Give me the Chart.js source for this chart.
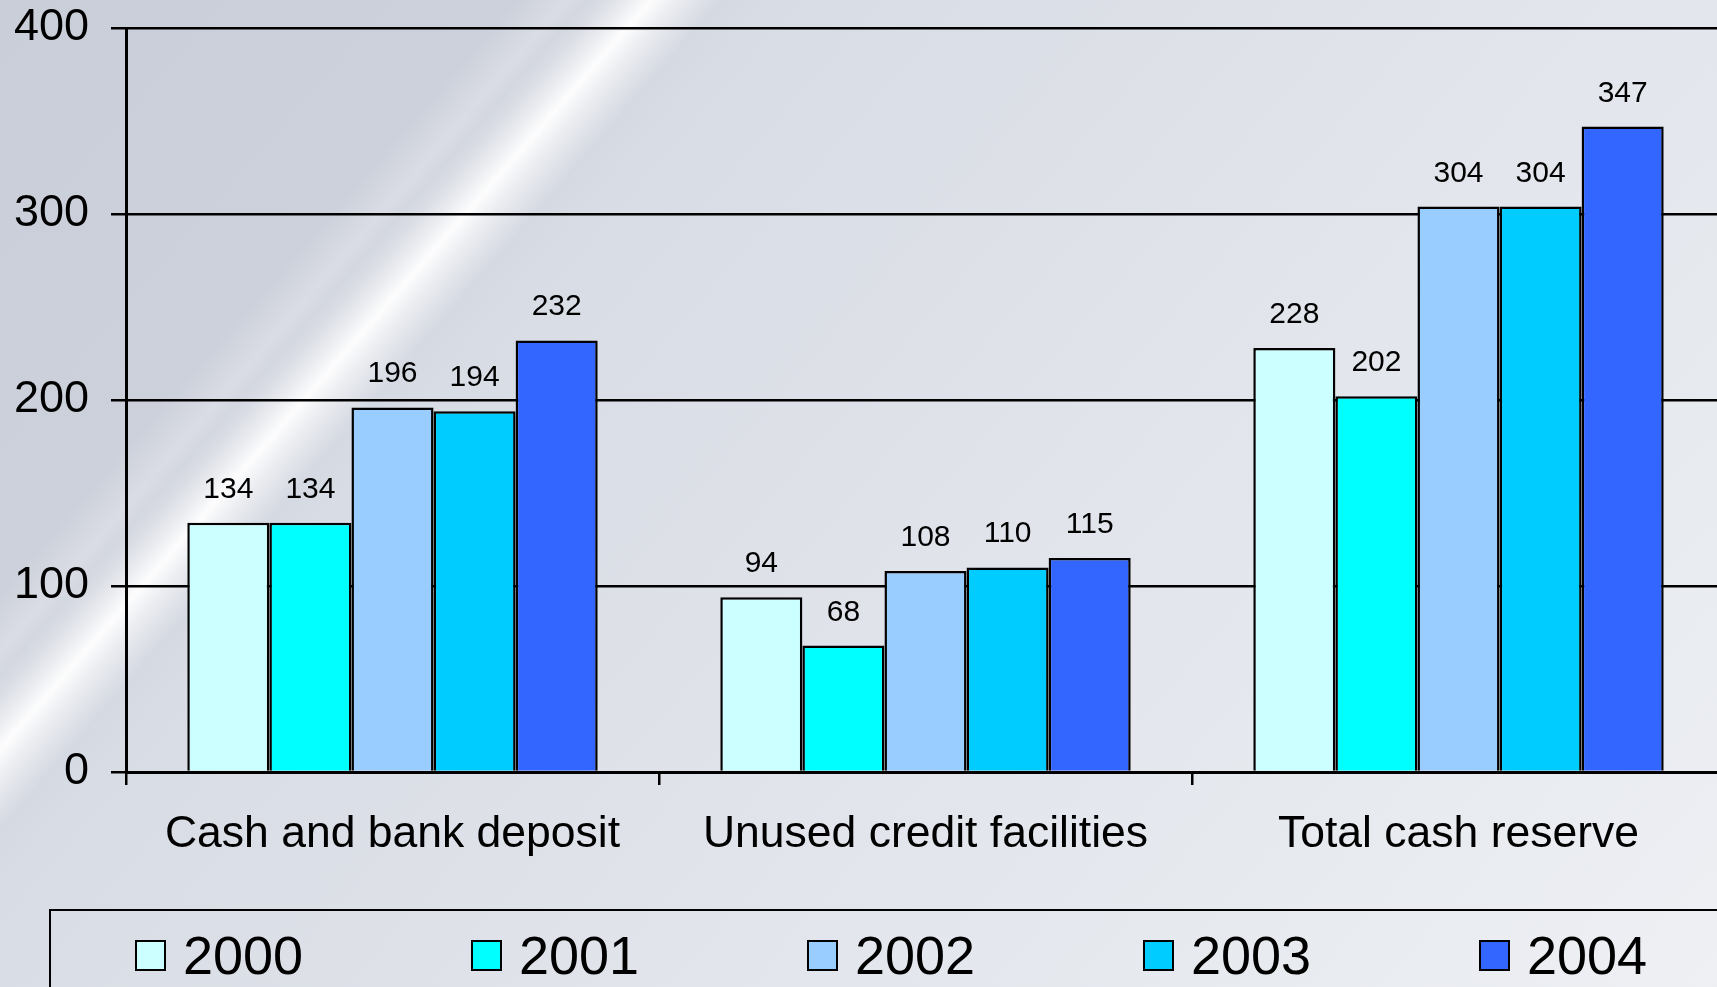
<!DOCTYPE html>
<html>
<head>
    <title>Cash reserve 2000-2004</title>
    <style>
        body {
            margin: 0;
            width: 1717px;
            height: 987px;
            overflow: hidden;
            position: relative;
            font-family: 'Liberation Sans', Arial, sans-serif;
            background:
                linear-gradient(131deg, rgba(255,255,255,0) 20%, rgba(255,255,255,0.25) 22%, rgba(255,255,255,0) 23.5%),
                linear-gradient(131deg, rgba(255,255,255,0) 22.8%, rgba(255,255,255,0.55) 24.4%, rgba(255,255,255,0.95) 25.3%, rgba(255,255,255,0.55) 26.3%, rgba(255,255,255,0) 28%),
                linear-gradient(131deg, #caced8 0%, #cdd1db 22%, #d8dce4 30%, #e0e3ea 55%, #e7eaef 80%, #eef0f4 100%);
        }
        .chart-box {
            position: absolute;
            left: 0;
            top: 0;
            width: 1745px;
            height: 892px;
        }
        .legend {
            position: absolute;
            left: 49px;
            top: 909px;
            width: 1720px;
            height: 120px;
            border: 2.5px solid #000;
            box-sizing: border-box;
        }
        .legend-item {
            position: absolute;
            top: 27px;
            display: flex;
            align-items: center;
            font-size: 54px;
            line-height: 34px;
            color: #000;
        }
        .legend-item span.sw {
            display: inline-block;
            width: 27px;
            height: 27px;
            border: 2px solid #000;
            margin-right: 17px;
        }
    </style>
</head>
<body>

<div class="chart-box">
    <canvas id="cashChart"></canvas>
</div>
<div class="legend" id="legend"></div>

<script src="https://cdn.jsdelivr.net/npm/chart.js"></script>
<script>
    const categories = ['Cash and bank deposit', 'Unused credit facilities', 'Total cash reserve'];
    const years = ['2000', '2001', '2002', '2003', '2004'];
    const y2000 = [134, 94, 228];
    const y2001 = [134, 68, 202];
    const y2002 = [196, 108, 304];
    const y2003 = [194, 110, 304];
    const y2004 = [232, 115, 347];
    const yTicks = [0, 100, 200, 300, 400];
    const colors = ['#CCFFFF', '#00FFFF', '#99CCFF', '#00CCFF', '#3366FF'];

    const series = [y2000, y2001, y2002, y2003, y2004];

    Chart.defaults.font.family = "'Liberation Sans', Arial, sans-serif";
    Chart.defaults.color = '#000';

    // value labels over the bars
    const valueLabels = {
        id: 'valueLabels',
        afterDatasetsDraw(chart) {
            const ctx = chart.ctx;
            ctx.save();
            ctx.font = "30px 'Liberation Sans', Arial, sans-serif";
            ctx.fillStyle = '#000';
            ctx.textAlign = 'center';
            ctx.textBaseline = 'alphabetic';
            chart.data.datasets.forEach((ds, i) => {
                chart.getDatasetMeta(i).data.forEach((bar, j) => {
                    ctx.fillText(ds.data[j], bar.x, bar.y - 25);
                });
            });
            ctx.restore();
        }
    };

    new Chart(document.getElementById('cashChart'), {
        type: 'bar',
        data: {
            labels: categories,
            datasets: series.map((vals, i) => ({
                label: years[i],
                data: vals,
                backgroundColor: colors[i],
                borderColor: '#000',
                borderWidth: 2.5,
                borderSkipped: 'start',
                categoryPercentage: 0.77,
                barPercentage: 1.0
            }))
        },
        options: {
            responsive: true,
            maintainAspectRatio: false,
            animation: false,
            layout: { padding: { top: 28, right: 20, bottom: 0, left: 0 } },
            plugins: {
                legend: { display: false },
                tooltip: { enabled: false }
            },
            scales: {
                x: {
                    grid: { display: true, drawOnChartArea: false, drawTicks: true, tickLength: 13, color: '#000', lineWidth: 2.5, offset: true },
                    border: { display: true, color: '#000', width: 3 },
                    ticks: { font: { size: 44.5 }, padding: 23, maxRotation: 0, autoSkip: false },
                    afterFit: scale => { scale.height = 120; }
                },
                y: {
                    min: 0,
                    max: 400,
                    afterBuildTicks: scale => { scale.ticks = yTicks.map(v => ({ value: v })); },
                    grid: { color: '#000', lineWidth: 2.5, tickLength: 15 },
                    border: { display: true, color: '#000', width: 3 },
                    ticks: { font: { size: 45 }, padding: 22 },
                    afterFit: scale => {
                        scale.width = 126;
                        scale.paddingTop = 0;
                        scale.paddingBottom = 0;
                    }
                }
            }
        },
        plugins: [valueLabels]
    });

    // legend boxes under the chart
    const legend = document.getElementById('legend');
    years.forEach((yr, i) => {
        const item = document.createElement('div');
        item.className = 'legend-item';
        item.style.left = (84 + i * 336) + 'px';
        item.innerHTML = '<span class="sw" style="background:' + colors[i] + '"></span>' + yr;
        legend.appendChild(item);
    });
</script>

</body>
</html>
